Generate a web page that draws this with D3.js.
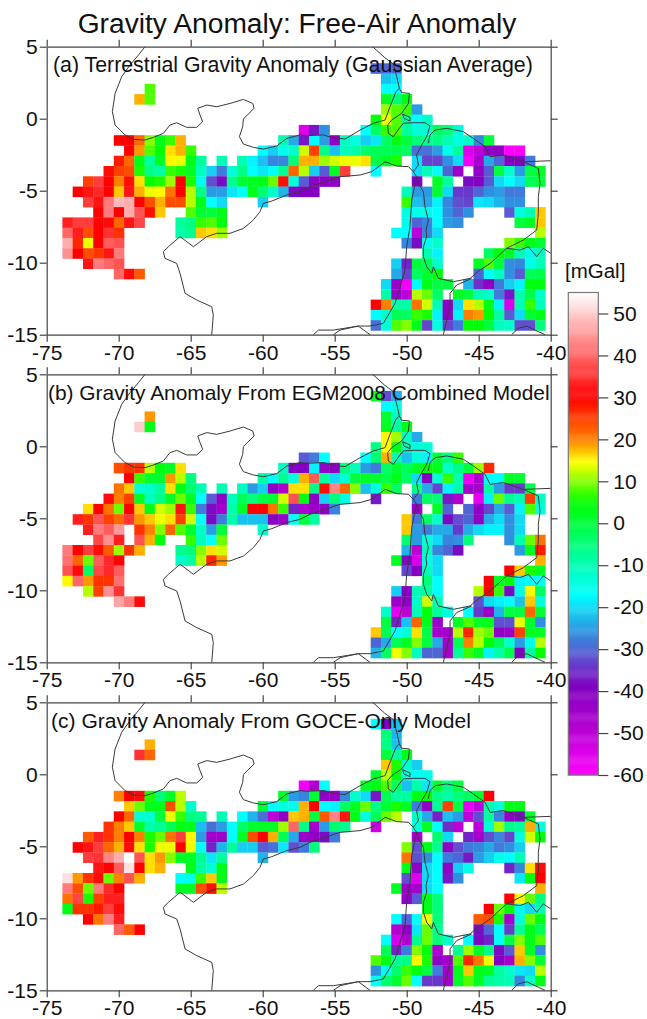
<!DOCTYPE html>
<html>
<head>
<meta charset="utf-8">
<script src="https://cdn.jsdelivr.net/npm/d3@7"></script>
<style>
  body { margin: 0; background: #fff; }
  svg text { font-family: "Liberation Sans", Arial, sans-serif; fill: #111; }
  .axis path, .axis line { stroke: #444; stroke-width: 1.2; }
  .coast { fill: none; stroke: #3a3a3a; stroke-width: 1; }
</style>
</head>
<body>
<svg width="647" height="1019"></svg>
<script>
// each row: list of runs [startColumn, value, value, ...], in mGal
const rowsA = [
  [[30,-30,-30,-30]],
  [[31,-22,-20]],
  [[8,8],[31,-17,-17]],
  [[7,18,8],[31,2,-5,3]],
  [[31,11,8,7,-25]],
  [[30,4,14,8,-8,-17,-12]],
  [[23,-55,-37,-26],[29,-17,-3,7,8,-8,-13,-13,-3,-5,-14]],
  [[5,30,30,22,10,3,7,18],[21,-10,-24,-37,-17,-25,-42,-11,-14,-21,-19,-3,4,0,-5,-7,-6,-10,-14,-12,-27,0]],
  [[6,30,19,8,5,16,18,7],[19,-17,-21,-15,-12,13,25,-6,-22,-11,-9,-4,-2,-2,-1,-3,-29,-29,-25,-15,-8,-55,-50,-42,-42,-60,-60]],
  [[5,28,22,3,-8,2,15,14,3,-8],[15,-10],[17,-10,-18,-22,-27,-27,-5,18,18,11,13,14,14,16,-1,2,6],[34,-20,-33,-33,-26,-20,-58,-46,-24,-30,-40,-40,-28]],
  [[4,29,25,24,6,-6,-9,7,6,2,-11,-21,-28,-13,-6,-17,-19,-17,-7,22,12,-21,-31,2,36],[30,-17],[34,-20,-10,-16,-30,-44],[40,-42,-31,0,-12,-25,-1,2]],
  [[2,25,36,30,20,29,16,5,6,11,30,6,-15,-32,-38,-7,1,2,3,9,29,-14,-31,-42,-42,-42],[34,-40],[36,2,-8],[39,-38,-40,-31,-20,-17,-20,-2,0]],
  [[1,30,32,34,30,17,32,18,14,15,21,30,12,-6,-25,-25,-19,-16,3,-4,-12,-23,-38,-40,-40],[33,-10,-25,-25,1,-20,-34,-34,-30,-26,-25,-28,-28]],
  [[2,36,32,42,48,47,30,24,18,24,24,12,3,-17,-20],[19,-21],[33,7,-22,-24,-18,-27,-32,-33,-19,-20,-23,-26,-26]],
  [[3,30,42,30,47,38,29,17],[12,8,1,0,3],[33,-14,-15,-15,-17,-26,-30,-26],[43,-31,-14,-10,17]],
  [[0,33,36,36,30,31,22,32,37],[11,-8,-6,7,8,4],[33,-15,-30,-27,-17,-25,-26],[44,0,2,17]],
  [[0,40,33,24,30,35,26],[11,-9,-7,17,16,11],[32,-17,-17,-50,-27,-20],[46,12]],
  [[0,47,27,14,30,39,38],[33,-27,-38,-15,-12],[43,10,7,3,1]],
  [[0,44,30,24,26,32,42],[35,-10,-18],[41,-3,4,2,-10,-15,-11]],
  [[2,32,42,40,38],[32,-21,-36,0,-2,-12],[40,2,8,0,-26,-27,-15,-10]],
  [[5,40,31,23],[32,-24,-33,-3,1,4],[40,-30,-17,-11,-26,-31,-2,-1]],
  [[31,-20,-44,-58,-17,3,-1,0],[39,-23,-35,-42,-28,-21,-18,4,4]],
  [[31,-9,-44,-50,12,9,-3],[38,2,0,-10,-12,-28,-37,-10,-1,-12]],
  [[30,30,20,-9,-9,21,13,-10,-42,-20,16,12,3,-18,-54,-10,7,-11]],
  [[30,-17,-12,-2,-3,7,6,-18,-42,-18,20,19,5,-8,-31,-20,1,3]],
  [[30,-29,-13,8,10,3,-33,-14,-33,-28,5,4,0,-11,-12,-32,-32,-5]]
];
const rowsB = [
  [[30,2,-32,-24]],
  [[31,-17,-14]],
  [[8,19],[31,1,-11]],
  [[7,50,3],[31,2,-8,3]],
  [[31,15,11,-12,-24]],
  [[30,-6,15,3,-10,-14,-13]],
  [[23,-31,-28,-17],[29,-17,-4,18,-10,-22,-14,-18,0,-5,7]],
  [[5,24,26,26,12,4,2,16],[21,-11,-40,-40,-18,-43,-42,-5,-10,-25,-28,-3,1,-2,2,4,3,-12,-6,0,11,27]],
  [[6,30,7,1,1,19,12,-5],[19,-9,-17,-7,-14,18,39,-8,-20,-13,0,2,1,-1,3,-3,-20,-40,-13,7,-10,-57,-48,-17,-17,2,1]],
  [[5,21,17,-13,-12,-8,16,3,-4,-10],[15,-10],[17,-11,-25,-21,-42,-48,16,16,-6,29,43,22,10,-22,-14,7,-3],[34,-6,-24,-33,-18,-9,-46,-46,-9,-25,-34,-34,-1]],
  [[4,31,20,25,2,-11,-6,2,9,2,-17,-31,-42,-11,-2,-5,-1,1,13,38,3,-42,-21,-5,-14],[30,-37],[34,-28,-3,-5,-37,-48],[40,-56,-18,9,-7,-10,25,-12]],
  [[2,16,30,21,9,30,17,3,13,11,32,7,-28,-38,-46,-9,2,30,30,21,7,-36,-48,-44,-42,-27],[34,-44],[36,2,-30],[39,-30,-42,-33,-24,-31,-18,8,-14]],
  [[1,33,26,38,25,22,35,19,17,14,16,25,13,-17,-38,-28,-9,-22,-22,-22,-40,-44,-17,0,-8],[33,17,-28,-3,-12,-38,-32,-30,-42,-24,-20,-26,-20]],
  [[2,33,42,39,45],[7,26,20,10,22,8,1,-12,-25,0],[19,-12],[33,17,-25,-28,-24,-24,-34,-24,-20,-18,-18,-26,-20]],
  [[3,37,44,33],[7,38,18,4],[12,7,-11,-17,9],[33,-4,-25,-13,-20,-27,-26,-5],[43,-26,-10,9,21]],
  [[0,42,30,36,29,23,11,26,18],[11,-7,-5,10,16,13],[33,-23,-50,-11,-27,-30,-38],[44,-25,2,28]],
  [[0,41,22,9,39,34,30],[11,-12,-9,12,27,19],[32,2,-38,-54,-14,-20],[46,18]],
  [[0,38,31,-3,37,34,39],[33,-33,-40,-11,-20],[43,30,17,6,2]],
  [[0,15,40,19,26,26,41],[35,-5,-17],[41,30,2,5,-18,-17,-16]],
  [[2,12,25,44,35],[32,-21,-40,-10,-8,-17],[40,12,30,7,-38,-15,15,-3]],
  [[5,46,42,31],[32,-44,-42,-12,13,-10],[40,-32,-20,-18,-17,-22,17,-14]],
  [[31,-12,-56,-50,-10,4,-8,-14],[39,-17,-34,-44,-23,0,0,22,1]],
  [[31,0,-36,-22,22,3,-44],[38,2,8,2,3,-32,-32,14,1,-26]],
  [[30,17,-2,-17,-13,16,-1,-46,-46,12,27,11,9,-42,-44,25,2,2]],
  [[30,-30,-24,-2,2,10,0,-24,-46,-2,20,12,5,-2,-12,-25,-15,12]],
  [[30,-23,-3,14,10,-11,-30,-30,-46,-7,7,2,-18,-9,-1,-40,-8,5]]
];
const rowsC = [
  [[30,-17,-40,-22]],
  [[31,-5,-23]],
  [[8,18],[31,-6,-22]],
  [[7,35,22],[31,0,-8,3]],
  [[31,17,6,-12,-21]],
  [[30,1,12,4,-14,-16,-15]],
  [[23,-58,-48,-17],[29,2,3,8,-3,-22,-9,-19,1,-6,0]],
  [[5,20,30,31,6,-5,2,12],[21,1,-25,-27,1,-42,-44,-27,-12,-20,-37,-2,-8,-8,3,5,-6,-9,-5,-3,1,30]],
  [[6,17,9,3,3,24,12,-12],[19,0,-17,-14,-15,18,30,-17,-18,-3,2,9,-6,1,6,2,-28,-42,-7,25,-1,-56,-50,-9,-14,3,3]],
  [[5,30,22,-13,-13,0,14,7,-5,-7],[15,-10],[17,-17,-23,-29,-50,-42,17,18,0,23,43,32,3,-14,-2,9,12],[34,-12,-24,-36,-22,-25,-50,-32,-8,-27,-42,-38,2]],
  [[4,26,20,17,2,-9,-7,-2,3,3,-22,-29,-25,-17,-3,1,2,2,11,40,-6,-46,-25,-4,-7],[30,-52],[34,-14,2,-17,-35,-50],[40,-50,-13,11,-6,-8,18,-14]],
  [[2,23,33,26,20,30,20,6,9,21,36,15,-25,-45,-45,-17,2,24,30,18,-2,-24,-44,-42,-38,-28],[34,-46],[36,-4,-20],[39,-36,-46,-32,-27,-33,-14,13,4]],
  [[1,30,32,36,22,18,31,16,6,14,14,30,14,-17,-36,-23,-8,-21,-21,-31,-29,-19,-32,-28,-5],[33,10,-32,3,-7,-42,-32,-28,-27,-24,-28,-26,-21]],
  [[2,36,35,43,47,55,38,16,19,10,2,2,-7,-19,-8],[19,-23],[33,21,-32,-26,-17,-28,-30,-37,-25,-21,-15,-17,-10]],
  [[3,32,30,39,52,30,16,18],[12,3,-8,-13,3],[33,3,-42,-20,-17,-42,-21,-15],[43,-36,-27,16,31]],
  [[0,52,19,26,31,9,20,38,18],[11,-17,-15,7,17,3],[33,-32,-55,-20,-17,-37,-26],[44,-19,4,30]],
  [[0,42,24,9,42,34,30],[11,2,2,24,29,12],[32,2,-44,-46,-20,-17],[46,18]],
  [[0,21,37,6,25,33,33],[33,-42,-31,3,-5],[43,30,15,9,-5]],
  [[0,3,26,26,28,36,31],[35,3,-5],[41,30,9,5,-15,-20,-10]],
  [[2,30,21,42,33],[32,-17,-30,-17,14,-5],[40,23,24,6,-46,-14,9,3]],
  [[5,40,23,30],[32,-48,-42,-19,9,-7],[40,-38,-30,-17,-34,-8,3,-2]],
  [[31,-17,-54,-48,-7,9,-5,-12],[39,-17,-38,-36,-17,-1,10,3,8]],
  [[31,-2,-36,-28,10,4,-48],[38,-7,11,2,-6,-38,-31,17,2,-26]],
  [[30,8,3,-7,-6,15,6,-42,-46,8,27,21,14,-40,-46,18,10,1]],
  [[30,-26,-15,-4,7,4,0,-28,-46,3,17,3,2,-8,-12,-19,-20,12]],
  [[30,-16,-4,1,9,-17,-34,-34,-46,2,8,2,-7,-9,-10,-27,-12,3]]
];

const panelTitles = [
  "(a) Terrestrial Gravity Anomaly (Gaussian Average)",
  "(b) Gravity Anomaly From EGM2008 Combined Model",
  "(c) Gravity Anomaly From GOCE-Only Model"
];
const lonTicks = [-75, -70, -65, -60, -55, -50, -45, -40];
const latTicks = [5, 0, -5, -10, -15];
const barTicks = [50, 40, 30, 20, 10, 0, -10, -20, -30, -40, -50, -60];

// grid of the blocks, degrees
const firstLon = -73.91, firstLat = 3.85, cellDeg = 0.7136;

// colour table
const colorValues = [-60, -48, -39, -32, -26, -17, -7.5, 5, 14.7, 20, 30, 55];
const colorStops = ["#ff00ff", "#b000d0", "#8000c0", "#6050d0", "#3090e0", "#00ffff", "#00ff99", "#00ff00", "#ffff00", "#ff8000", "#ff0000", "#ffffff"];

// coast lines, [lon, lat]
const coastNorth = [[-68.17,5],[-68.63,4.42],[-69.21,3.73],[-69.79,2.92],[-70.25,1.76],[-70.44,0.49],[-70.25,-0.44],[-69.56,-1.13],[-68.98,-1.44],[-68.17,-1.48],[-67.59,-1.3],[-66.9,-1.02],[-66.44,-0.44],[-65.97,-0.28],[-65.28,-0.6],[-64.58,-0.6],[-64.17,-0.21],[-64.35,0.25],[-64.51,0.72],[-63.89,0.95],[-63.19,0.83],[-62.27,1.06],[-61.34,1.34],[-60.69,1.06],[-60.6,0.72],[-61.34,-0.02],[-61.39,-0.56],[-61.62,-1.25],[-61.34,-1.76],[-60.65,-1.99],[-59.95,-2.11],[-59.03,-1.9],[-58.33,-1.37],[-57.41,-1.13],[-56.94,-1.18],[-55.79,-1.13],[-55.09,-1.32],[-54.28,-1.41],[-53.24,-0.79],[-52.31,-0.32],[-51.5,-0.09],[-51.16,0.83],[-50.74,1.88],[-50.51,2.11]];
const coastDelta = [[-52.36,5],[-51.55,4.26],[-50.93,3.8],[-50.69,2.92],[-50.51,2.11],[-50.35,1.81],[-49.81,1.76],[-49.88,1.06],[-50.35,0.37],[-51.04,-0.09],[-51.32,-0.44],[-51.27,-1.02],[-50.93,-1.25],[-50.46,-0.6],[-50.23,-0.32],[-49.54,-0.28],[-48.73,-0.28],[-48.38,-0.51],[-48.61,-1.25],[-48.96,-1.83],[-49.31,-2.52],[-49.19,-3.22],[-49.54,-3.68]];
const coastIsland = [[-50.28,0.32],[-49.77,0.09],[-49.77,-0.16],[-50.19,0.02],[-50.28,0.32]];
const coastEast = [[-48.5,-1.71],[-48.38,-1.13],[-48.03,-0.79],[-47.22,-0.67],[-46.06,-0.9],[-45.37,-1.37],[-44.56,-1.94],[-44.21,-2.64],[-43.29,-2.52],[-41.9,-2.99],[-40.86,-3.45],[-40.74,-4.49],[-40.86,-5.42],[-40.86,-6.57],[-40.97,-7.73],[-41.9,-8.43],[-43.06,-9],[-44.21,-10.05],[-44.91,-10.51],[-45.6,-11.09],[-46.76,-11.32],[-47.8,-11.09],[-48.15,-10.28],[-48.26,-10.74],[-48.61,-10.28],[-48.84,-9.58],[-48.84,-8.89],[-48.61,-8.19],[-48.66,-7.73],[-48.5,-7.04],[-48.73,-6.11],[-48.84,-5.07],[-49.19,-4.49],[-49.31,-4.03],[-49.54,-3.68],[-49.88,-3.33],[-50.69,-3.29],[-51.5,-2.99],[-52.43,-3.68],[-53.24,-3.91],[-54.63,-4.03],[-56.71,-4.72],[-57.41,-5.07],[-58.33,-5.3],[-59.37,-5.72],[-59.95,-5.88],[-60.19,-6.46],[-60.65,-7.04],[-61.34,-7.62],[-62.27,-7.96],[-63.19,-7.96],[-63.89,-8.19],[-64.81,-8.89],[-65.74,-8.19],[-66.55,-8.89],[-66.9,-9.24],[-66.78,-9.7],[-65.97,-10.05],[-65.74,-10.74],[-65.39,-12.13],[-64.58,-12.59],[-63.54,-13.06],[-63.43,-13.63],[-63.54,-15]];
const coastInner = [[-49.31,-4.03],[-49.42,-4.49],[-49.65,-5.65],[-49.77,-7.5],[-50,-8.89],[-50.12,-10.51],[-50.46,-11.67],[-50.81,-12.82],[-51.62,-14.21],[-52.55,-14.4],[-53.36,-14.4],[-54.63,-14.68],[-55.09,-15]];
const coastSW = [[-56.48,-15],[-56.13,-14.68],[-55.09,-14.68],[-53.36,-14.4],[-52.55,-15]];
const coastSouth = [[-47.45,-15],[-47.22,-13.98],[-46.99,-13.06],[-46.99,-12.13],[-46.53,-11.55],[-45.49,-11.09]];
const coastSE = [[-42.71,-15],[-42.25,-14.56],[-41.67,-14.4],[-40.86,-14.79],[-40.39,-15]];
const coastRight = [[-43.06,-9],[-42.13,-9.12],[-41.55,-8.89],[-40.97,-9.58],[-40.51,-9],[-40,-9.35]];
const coastTop = [[-41.9,-2.99],[-40,-2.92]];
const coastLines = [coastNorth, coastDelta, coastIsland, coastEast, coastInner, coastSW, coastSouth, coastSE, coastRight, coastTop];

const svg = d3.select("svg");
const color = d3.scaleLinear().domain(colorValues).range(colorStops).interpolate(d3.interpolateRgb);

const left = 46.7, right = 550.7, plotH = 288;
const x = d3.scaleLinear().domain([-75, -40]).range([left, right]);

svg.append("text")
  .attr("x", 297).attr("y", 33)
  .attr("text-anchor", "middle")
  .attr("font-size", 28.2)
  .text("Gravity Anomaly: Free-Air Anomaly");

function drawPanel(rows, top, title, titleX, titleY, titleSize) {
  const y = d3.scaleLinear().domain([5, -15]).range([top, top + plotH]);
  const g = svg.append("g");

  const cells = [];
  rows.forEach((runs, r) => {
    runs.forEach(run => {
      run.slice(1).forEach((v, k) => {
        cells.push({ lon: firstLon + (run[0] + k) * cellDeg, lat: firstLat - r * cellDeg, v: v });
      });
    });
  });
  g.selectAll("rect")
    .data(cells)
    .enter()
    .append("rect")
    .attr("x", d => x(d.lon))
    .attr("y", d => y(d.lat))
    .attr("width", x(firstLon + cellDeg) - x(firstLon) + 0.3)
    .attr("height", y(firstLat - cellDeg) - y(firstLat) + 0.3)
    .attr("fill", d => color(d.v));

  const line = d3.line().x(d => x(d[0])).y(d => y(d[1]));
  g.selectAll("path.coast")
    .data(coastLines)
    .enter()
    .append("path")
    .attr("class", "coast")
    .attr("d", line);

  const label = d => String(d);
  g.append("g").attr("class", "axis")
    .attr("transform", `translate(0,${top + plotH})`)
    .call(d3.axisBottom(x).tickValues(lonTicks).tickSize(7).tickPadding(3).tickSizeOuter(0).tickFormat(label));
  g.append("g").attr("class", "axis")
    .attr("transform", `translate(0,${top})`)
    .call(d3.axisTop(x).tickValues(lonTicks).tickSize(7).tickSizeOuter(0).tickFormat(""));
  g.append("g").attr("class", "axis")
    .attr("transform", `translate(${left},0)`)
    .call(d3.axisLeft(y).tickValues(latTicks).tickSize(7).tickPadding(2).tickSizeOuter(0).tickFormat(label));
  g.append("g").attr("class", "axis")
    .attr("transform", `translate(${right},0)`)
    .call(d3.axisRight(y).tickValues(latTicks).tickSize(7).tickSizeOuter(0).tickFormat(""));
  g.selectAll(".axis text").attr("font-size", 21).attr("font-family", "Liberation Sans").attr("fill", "#111");

  g.append("text")
    .attr("x", titleX).attr("y", titleY)
    .attr("font-size", titleSize)
    .text(title);
}

drawPanel(rowsA, 46.7, panelTitles[0], 53, 72, 21.3);
drawPanel(rowsB, 374.3, panelTitles[1], 48, 400, 20.9);
drawPanel(rowsC, 702.3, panelTitles[2], 51, 727.5, 21.05);

// colour bar
const barX = 568.3, barW = 30;
const barY = d3.scaleLinear().domain([-60, 55]).range([775, 292.5]);
const bar = svg.append("g");
bar.selectAll("rect")
  .data(d3.range(-60, 55, 0.25))
  .enter()
  .append("rect")
  .attr("x", barX)
  .attr("y", d => barY(d + 0.25))
  .attr("width", barW)
  .attr("height", barY(0) - barY(0.25) + 0.4)
  .attr("fill", d => color(d + 0.125));
bar.append("rect")
  .attr("x", barX).attr("y", barY(55))
  .attr("width", barW).attr("height", barY(-60) - barY(55))
  .attr("fill", "none").attr("stroke", "#777").attr("stroke-width", 1.2);
const barAxis = bar.append("g").attr("class", "axis")
  .attr("transform", `translate(${barX + barW},0)`)
  .call(d3.axisRight(barY).tickValues(barTicks).tickSize(10).tickPadding(5).tickSizeOuter(0).tickFormat(d => String(d)));
barAxis.select(".domain").remove();
barAxis.selectAll("text").attr("font-size", 21).attr("font-family", "Liberation Sans").attr("fill", "#111");

svg.append("text")
  .attr("x", 565).attr("y", 278)
  .attr("font-size", 20.5)
  .text("[mGal]");
</script>
</body>
</html>
